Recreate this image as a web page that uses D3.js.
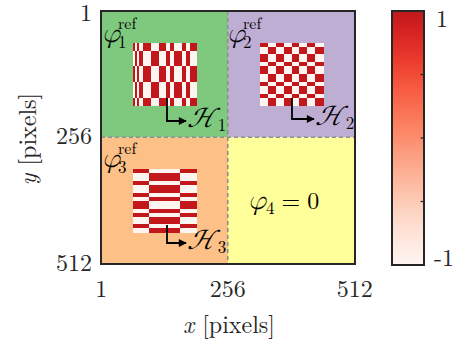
<!DOCTYPE html>
<html>
<head>
<meta charset="utf-8">
<script src="https://cdn.jsdelivr.net/npm/d3@7"></script>
<style>
  body { margin: 0; background: #fff; }
</style>
</head>
<body>
<svg id="chart" width="453" height="342"></svg>
<script>
// ---- data -------------------------------------------------------------
// image grid is 512 x 512 pixels
const gridSize = 512;
const axisTicks = [1, 256, 512];
const axisTickLabels = ["1", "256", "512"];

// quadrants (pixel index ranges)
const quadrantIds = [1, 2, 3, 4];
const quadrantX0 = [1, 257, 1, 257];
const quadrantX1 = [256, 512, 256, 512];
const quadrantY0 = [1, 1, 257, 257];
const quadrantY1 = [256, 256, 512, 512];
const quadrantColors = ["#7fc97f", "#beaed4", "#fdc086", "#ffff99"];

// reference patterns: separable +/-1 sign runs (widths in pixels),
// first run is +1, signs alternate; value(x,y) = colSign * rowSign
const patternIds = [1, 2, 3];
const patternX0 = [65, 321, 65];
const patternY0 = [65, 65, 321];
const pattern1Cols = [4, 4, 4, 8, 16, 16, 16, 8, 8, 16, 8, 8, 12];
const pattern1Rows = [16, 32, 32, 32, 16];
const pattern2Cols = [16, 16, 16, 16, 16, 16, 16, 16];
const pattern2Rows = [8, 16, 16, 8, 16, 16, 8, 16, 8, 16];
const pattern3Cols = [32, 64, 32];
const pattern3Rows = [8, 16, 8, 16, 8, 8, 16, 8, 8, 16, 8, 8];

// colour bar
const cbarDomain = [-1, 1];
const cbarTicks = [-1, -0.5, 0, 0.5, 1];
const cbarTickLabels = ["-1", "", "", "", "1"];

// ---- layout -----------------------------------------------------------
const serif = "Latin Modern Roman, Liberation Serif, serif";
const mathFont = "Latin Modern Math, Latin Modern Roman, serif";
const svg = d3.select("#chart").attr("font-family", serif);
const plot = { left: 101, right: 355, top: 11, bottom: 264 };
const x = d3.scaleLinear().domain([0.5, gridSize + 0.5]).range([plot.left, plot.right]);
const y = d3.scaleLinear().domain([0.5, gridSize + 0.5]).range([plot.top, plot.bottom]);
const ink = "#262626";

const cmap = t => d3.interpolateReds(t * 0.78);
const color = d3.scaleSequential(v => cmap(v)).domain(cbarDomain);

// quadrant backgrounds
svg.append("g").selectAll("rect")
  .data(quadrantIds.map((id, i) => ({ id, x0: quadrantX0[i], x1: quadrantX1[i], y0: quadrantY0[i], y1: quadrantY1[i], c: quadrantColors[i] })))
  .join("rect")
  .attr("x", d => x(d.x0 - 0.5))
  .attr("y", d => y(d.y0 - 0.5))
  .attr("width", d => x(d.x1 + 0.5) - x(d.x0 - 0.5))
  .attr("height", d => y(d.y1 + 0.5) - y(d.y0 - 0.5))
  .attr("fill", d => d.c);

// build pattern cells from the sign runs
function runs(widths) {
  let pos = 0;
  return widths.map((w, i) => {
    const r = { start: pos, width: w, sign: i % 2 === 0 ? 1 : -1 };
    pos += w;
    return r;
  });
}
const patternCols = [pattern1Cols, pattern2Cols, pattern3Cols];
const patternRows = [pattern1Rows, pattern2Rows, pattern3Rows];
const cells = [];
patternIds.forEach((id, k) => {
  const cs = runs(patternCols[k]), rs = runs(patternRows[k]);
  rs.forEach(r => cs.forEach(c => {
    cells.push({
      x0: patternX0[k] + c.start, w: c.width,
      y0: patternY0[k] + r.start, h: r.width,
      v: c.sign * r.sign
    });
  }));
});
svg.append("g").attr("shape-rendering", "crispEdges").selectAll("rect")
  .data(cells)
  .join("rect")
  .attr("x", d => x(d.x0 - 0.5))
  .attr("y", d => y(d.y0 - 0.5))
  .attr("width", d => x(d.x0 + d.w - 0.5) - x(d.x0 - 0.5) + 0.3)
  .attr("height", d => y(d.y0 + d.h - 0.5) - y(d.y0 - 0.5) + 0.3)
  .attr("fill", d => color(d.v));

// dashed quadrant borders
const dash = svg.append("g").attr("stroke", "#8f8f8f").attr("stroke-width", 1.6).attr("stroke-dasharray", "4,3");
dash.append("line").attr("x1", x(256)).attr("x2", x(256)).attr("y1", y(0.5)).attr("y2", y(512.5));
dash.append("line").attr("x1", x(0.5)).attr("x2", x(512.5)).attr("y1", y(256)).attr("y2", y(256));

// frame
svg.append("rect")
  .attr("x", plot.left).attr("y", plot.top)
  .attr("width", plot.right - plot.left).attr("height", plot.bottom - plot.top)
  .attr("fill", "none").attr("stroke", ink).attr("stroke-width", 2);

// axes tick labels
const fs = 24;
svg.append("g").selectAll("text")
  .data(axisTicks)
  .join("text")
  .attr("x", d => x(d)).attr("y", 297)
  .attr("text-anchor", "middle").attr("font-size", fs).attr("fill", ink)
  .text((d, i) => axisTickLabels[i]);
svg.append("g").selectAll("text")
  .data(axisTicks)
  .join("text")
  .attr("x", 92).attr("y", d => y(d) + (d === 1 ? 10 : 7))
  .attr("text-anchor", "end").attr("font-size", fs).attr("fill", ink)
  .text((d, i) => axisTickLabels[i]);

// axis titles
const xt = svg.append("text").attr("x", 229).attr("y", 333).attr("text-anchor", "middle").attr("font-size", fs).attr("fill", ink);
xt.append("tspan").attr("font-style", "italic").text("x");
xt.append("tspan").text(" [pixels]");
const yt = svg.append("text").attr("transform", "translate(36,139) rotate(-90)").attr("text-anchor", "middle").attr("font-size", fs).attr("fill", ink);
yt.append("tspan").attr("font-style", "italic").text("y");
yt.append("tspan").text(" [pixels]");

// phi labels: symbol, subscript index and "ref" superscript in one text
const symSize = 28;
function phiLabel(px, py, sub, sup) {
  const t = svg.append("text").attr("x", px).attr("y", py).attr("font-size", symSize).attr("fill", "#000");
  t.append("tspan").attr("font-family", mathFont).attr("font-style", "italic").text("φ");
  t.append("tspan").attr("x", px + 16).attr("y", py + 6).attr("font-size", 17).text(sub);
  t.append("tspan").attr("x", px + 16).attr("y", py - 13).attr("font-size", 16).text(sup);
}
phiLabel(102, 42, "1", "ref");
phiLabel(227, 42, "2", "ref");
phiLabel(102, 167, "3", "ref");

// phi_4 = 0
const p4 = svg.append("text").attr("x", 248).attr("y", 209).attr("font-size", fs).attr("fill", "#000");
p4.append("tspan").attr("font-family", mathFont).attr("font-style", "italic").attr("font-size", symSize).text("φ");
p4.append("tspan").attr("dy", 5).attr("font-size", 17).text("4");
p4.append("tspan").attr("dy", -5).attr("dx", 7).text("=");
p4.append("tspan").attr("dx", 7).text("0");

// arrows to H labels
svg.append("defs").append("marker")
  .attr("id", "head").attr("viewBox", "0 0 10 10").attr("refX", 9).attr("refY", 5)
  .attr("markerWidth", 10).attr("markerHeight", 8).attr("markerUnits", "userSpaceOnUse").attr("orient", "auto")
  .append("path").attr("d", "M0,0 L10,5 L0,10 Z").attr("fill", "#000");
function hArrow(ax, ay, by, ex, sub) {
  svg.append("path")
    .attr("d", `M${ax},${ay} V${by} H${ex}`)
    .attr("fill", "none").attr("stroke", "#000").attr("stroke-width", 1.8)
    .attr("marker-end", "url(#head)");
  const t = svg.append("text").attr("x", ex + 1).attr("y", by + 6).attr("font-size", symSize).attr("fill", "#000");
  t.append("tspan").attr("font-family", mathFont).attr("font-style", "italic").text("ℋ");
  t.append("tspan").attr("dy", 4).attr("dx", 1).attr("font-size", 17).text(sub);
}
hArrow(167, 98, 121, 186, "1");
hArrow(292, 98, 119, 314, "2");
hArrow(167, 225, 243, 186, "3");

// colour bar
const cb = { left: 392, right: 424, top: 11, bottom: 265 };
const cy = d3.scaleLinear().domain(cbarDomain).range([cb.bottom, cb.top]);
const grad = svg.append("defs").append("linearGradient").attr("id", "cbgrad")
  .attr("x1", 0).attr("y1", 1).attr("x2", 0).attr("y2", 0);
d3.range(0, 1.0001, 0.05).forEach(t => {
  grad.append("stop").attr("offset", t).attr("stop-color", color(cbarDomain[0] + t * (cbarDomain[1] - cbarDomain[0])));
});
svg.append("rect").attr("x", cb.left).attr("y", cb.top).attr("width", cb.right - cb.left).attr("height", cb.bottom - cb.top)
  .attr("fill", "url(#cbgrad)");
svg.append("g").selectAll("line")
  .data(cbarTicks)
  .join("line")
  .attr("x1", cb.right).attr("x2", cb.right - 3.5)
  .attr("y1", d => cy(d)).attr("y2", d => cy(d))
  .attr("stroke", ink).attr("stroke-width", 1.2);
svg.append("rect").attr("x", cb.left).attr("y", cb.top).attr("width", cb.right - cb.left).attr("height", cb.bottom - cb.top)
  .attr("fill", "none").attr("stroke", ink).attr("stroke-width", 2);
svg.append("g").selectAll("text")
  .data(cbarTicks)
  .join("text")
  .attr("x", d => d > 0 ? 436 : 434).attr("y", d => d > 0 ? cy(d) + 16 : cy(d) + 1)
  .attr("font-size", fs).attr("fill", ink)
  .text((d, i) => cbarTickLabels[i]);
</script>
</body>
</html>
